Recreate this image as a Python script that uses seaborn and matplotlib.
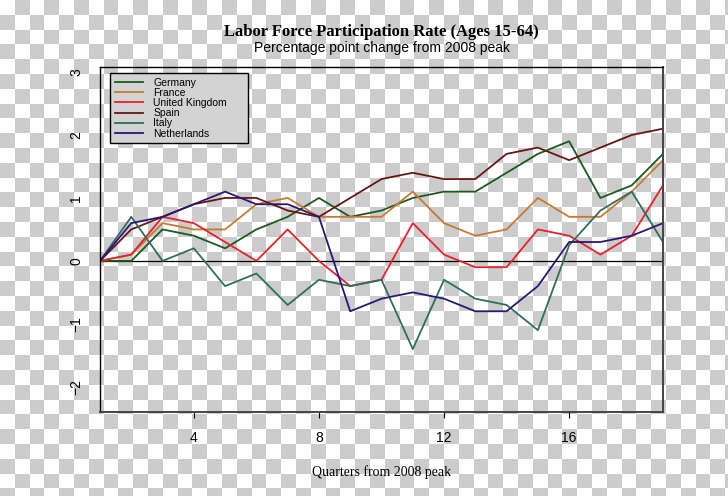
import matplotlib
matplotlib.use('Agg')
import matplotlib.pyplot as plt
import numpy as np
import pandas as pd
import seaborn as sns

# Quarters from 2008 peak and change (percentage points) per country
quarters = list(range(1, 20))
germany = [0, 0, 0.5, 0.4, 0.2, 0.5, 0.7, 1.0, 0.7, 0.8, 1.0, 1.1, 1.1, 1.4, 1.7, 1.9, 1.0, 1.2, 1.7]
france = [0, 0.1, 0.6, 0.5, 0.5, 0.9, 1.0, 0.7, 0.7, 0.7, 1.1, 0.6, 0.4, 0.5, 1.0, 0.7, 0.7, 1.1, 1.6]
uk = [0, 0.1, 0.7, 0.6, 0.3, 0.0, 0.5, 0.0, -0.4, -0.3, 0.6, 0.1, -0.1, -0.1, 0.5, 0.4, 0.1, 0.4, 1.2]
spain = [0, 0.5, 0.7, 0.9, 1.0, 1.0, 0.8, 0.7, 1.0, 1.3, 1.4, 1.3, 1.3, 1.7, 1.8, 1.6, 1.8, 2.0, 2.1]
italy = [0, 0.7, 0.0, 0.2, -0.4, -0.2, -0.7, -0.3, -0.4, -0.3, -1.4, -0.3, -0.6, -0.7, -1.1, 0.25, 0.8, 1.1, 0.3]
netherlands = [0, 0.6, 0.7, 0.9, 1.1, 0.9, 0.9, 0.7, -0.8, -0.6, -0.5, -0.6, -0.8, -0.8, -0.4, 0.3, 0.3, 0.4, 0.6]

countries = ['Germany', 'France', 'United Kingdom', 'Spain', 'Italy', 'Netherlands']
series = [germany, france, uk, spain, italy, netherlands]
colors = ['#1B5A1E', '#C8792F', '#E8202A', '#6A1515', '#2F6E5C', '#2A1676']

df = pd.DataFrame({
    'quarter': quarters * len(countries),
    'change': np.concatenate(series),
    'country': np.repeat(countries, len(quarters)),
})

sans = ['Liberation Sans', 'DejaVu Sans']
serif = ['Liberation Serif', 'DejaVu Serif']

fig = plt.figure(figsize=(7.28, 4.96), dpi=100)

# checkerboard backdrop (the reference is a "transparent" PNG)
bg = fig.add_axes([0, 0, 1, 1], zorder=-10)
nr, nc = 34, 50
board = (np.add.outer(np.arange(nr), np.arange(nc)) % 2).astype(float)
bg.imshow(board, cmap=matplotlib.colors.ListedColormap(['#FFFFFF', '#CCCCCC']),
          extent=(0, nc * 14.8, nr * 14.8, 0), interpolation='nearest')
bg.set_xlim(0, 728)
bg.set_ylim(496, 0)
bg.axis('off')

ax = fig.add_axes([100 / 728, 1 - 412 / 496, 563 / 728, 345 / 496])
ax.set_facecolor('none')

sns.lineplot(data=df, x='quarter', y='change', hue='country', hue_order=countries,
             palette=dict(zip(countries, colors)), linewidth=1.3, ax=ax)
ax.axhline(0, color='black', linewidth=0.9, zorder=1)

ax.set_xlim(1, 19)
ax.set_ylim(-2.4, 3.08)
ax.set_xticks([4, 8, 12, 16])
ax.set_yticks([-2, -1, 0, 1, 2, 3])
ax.tick_params(axis='x', length=4.5, width=0.8, pad=9, labelsize=10)
ax.tick_params(axis='y', length=0, pad=12, labelsize=10)
for lab in ax.get_xticklabels() + ax.get_yticklabels():
    lab.set_family(sans)
plt.setp(ax.get_yticklabels(), rotation=90, va='center')
for side in ['left', 'top']:
    ax.spines[side].set_color('black')
    ax.spines[side].set_linewidth(1.0)
for side in ['bottom', 'right']:
    ax.spines[side].set_color('#444444')
    ax.spines[side].set_linewidth(1.4)

ax.set_xlabel('Quarters from 2008 peak', family=serif, fontsize=10, labelpad=15)
ax.set_ylabel('')

# legend box stretched to the reference width
leg_w = 138 / 563
leg = ax.legend(loc='upper left', bbox_to_anchor=(0.018, 0.5, leg_w, 0.483), mode='expand',
                borderaxespad=0, frameon=True, fancybox=False, facecolor='#D3D3D3',
                edgecolor='black', framealpha=1, prop={'family': sans, 'size': 7.5},
                labelspacing=0.02, handlelength=2.7, handletextpad=1.0, borderpad=0.45)
leg.get_frame().set_linewidth(1.0)

# titles centred over the plotting region
cx = (100 + 663) / 2 / 728
fig.text(cx, 1 - 32 / 496, 'Labor Force Participation Rate (Ages 15-64)', family=serif,
         weight='bold', fontsize=12, ha='center', va='center')
fig.text(cx, 1 - 48 / 496, 'Percentage point change from 2008 peak', family=sans,
         fontsize=10, ha='center', va='center')

fig.savefig('out.png', dpi=100)
